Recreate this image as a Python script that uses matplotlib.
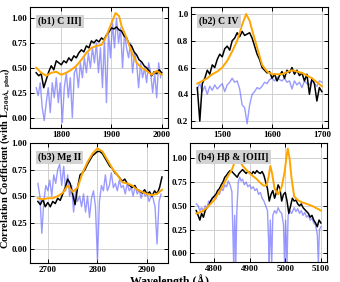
import numpy as np
import matplotlib
matplotlib.use("Agg")
import matplotlib.pyplot as plt

plt.rcParams['font.family'] = ['Liberation Serif', 'DejaVu Serif']
plt.rcParams['font.weight'] = 'bold'
plt.rcParams['mathtext.fontset'] = 'custom'
plt.rcParams['mathtext.rm'] = 'Liberation Serif:bold'
plt.rcParams['mathtext.bf'] = 'Liberation Serif:bold'

# ---- (b1) C III] ----
b1_wl = np.arange(1750, 2001, 5)
b1_obs = [.45, .42, .44, .30, .38, .46, .52, .48, .57, .55, .53, .57, .55, .60, .57, .62, .60,
          .65, .68, .66, .72, .70, .77, .75, .78, .76, .80, .78, .83, .86, .90, .89, .91, .88,
          .87, .82, .80, .74, .72, .66, .63, .58, .56, .52, .50, .47, .42, .46, .44, .48, .45]
b1_mod_wl = [1750, 1760, 1770, 1780, 1790, 1800, 1810, 1820, 1830, 1840, 1850, 1860, 1870, 1880,
             1890, 1900, 1908, 1915, 1920, 1930, 1940, 1950, 1960, 1970, 1980, 1990, 2000]
b1_mod = [.50, .45, .42, .45, .46, .43, .45, .48, .52, .58, .65, .70, .72, .73,
          .82, .95, 1.05, 1.02, .92, .80, .66, .55, .50, .47, .43, .47, .43]
b1_ew_wl = np.arange(1750, 2000, 4)
b1_ew = [.30, .22, .35, .10, -.03, .15, .30, .05, .35, .20, .40, .15, .35, -.05, .30, .45,
         .20, .40, .00, .45, .50, .30, .55, .40, .60, .45, .65, .50, .70, .55, .75, .45,
         .70, .30, .80, .15, .85, .60, .95, .70, 1.00, .75, .90, .50, .85, .70, .60, .75,
         .45, .65, .55, .30, .55, .40, .50, .35, .55, .45, .25, .45, .20, .55, .40]

# ---- (b2) C IV ----
b2_wl = np.arange(1450, 1701, 5)
b2_obs = [.45, .20, .48, .52, .58, .55, .62, .60, .66, .70, .68, .74, .76, .73, .80, .82, .86,
          .83, .87, .84, .85, .86, .82, .76, .70, .66, .60, .58, .56, .57, .52, .55, .50, .54,
          .57, .52, .58, .56, .60, .55, .58, .54, .56, .50, .55, .40, .52, .48, .35, .45, .42]
b2_mod_wl = [1450, 1460, 1470, 1480, 1490, 1500, 1510, 1520, 1530, 1540, 1548, 1555, 1560,
             1570, 1580, 1590, 1600, 1620, 1640, 1660, 1680, 1700]
b2_mod = [.48, .50, .52, .55, .57, .60, .65, .72, .80, .92, 1.00, .95, .88,
          .75, .62, .57, .55, .55, .58, .56, .52, .46]
b2_ew = [.44, .48, .42, .46, .40, .46, .43, .47, .44, .46, .48, .42, .47, .49, .52, .49, .50,
         .44, .32, .30, .18, .32, .40, .42, .45, .44, .46, .49, .48, .51, .52, .50, .53, .51,
         .50, .52, .49, .50, .44, .50, .47, .49, .45, .50, .48, .47, .50, .48, .46, .50, .49]

# ---- (b3) Mg II ----
b3_wl = np.arange(2680, 2931, 5)
b3_obs = [.45, .42, .47, .40, .44, .40, .45, .43, .48, .46, .52, .58, .66, .62, .52, .42, .58,
          .70, .72, .75, .80, .84, .88, .90, .92, .92, .90, .86, .82, .78, .76, .72, .70, .67,
          .64, .66, .62, .60, .58, .60, .56, .55, .53, .56, .52, .54, .50, .55, .52, .58, .68]
b3_mod_wl = np.arange(2680, 2931, 10)
b3_mod = [.48, .47, .48, .48, .50, .53, .60, .54, .58, .72, .82, .90, .95, .92, .84, .76,
          .70, .63, .62, .60, .56, .54, .52, .51, .52, .56]
b3_ew_wl = np.arange(2680, 2930, 4)
b3_ew = [.62, .50, .15, .45, .60, .55, .65, .50, .70, .62, .75, .80, .60, .78, .55, .70,
         .50, .60, .35, .55, .45, .50, .40, .52, .35, .50, .30, .48, .55, .40, -.10, .45,
         .60, .55, .70, .55, .60, .72, .58, .62, .55, .65, .58, .60, .52, .62, .55, .58,
         .50, .60, .52, .56, .48, .55, .50, .52, .45, .50, .48, .40, .05, .45, .52]

# ---- (b4) Hbeta & [OIII] ----
b4_wl = np.arange(4750, 5101, 5)
b4_obs = [.45, .40, .35, .42, .38, .45, .48, .50, .55, .58, .60, .62, .66, .68, .72, .75, .80,
          .82, .85, .87, .86, .84, .82, .80, .84, .86, .88, .86, .84, .86, .85, .83, .86, .84,
          .87, .85, .84, .86, .82, .75, .68, .55, .62, .66, .58, .64, .72, .68, .55, .62, .64,
          .55, .42, .50, .58, .55, .56, .52, .50, .52, .48, .46, .44, .42, .38, .40, .35, .32,
          .28, .35, .32]
b4_mod_wl = [4750, 4760, 4770, 4780, 4790, 4800, 4810, 4820, 4830, 4840, 4850, 4858, 4865,
             4872, 4880, 4890, 4900, 4910, 4920, 4930, 4940, 4948, 4953, 4958, 4963, 4970,
             4980, 4990, 4998, 5003, 5007, 5012, 5018, 5025, 5035, 5045, 5060, 5075, 5090, 5100]
b4_mod = [.42, .43, .45, .48, .52, .56, .62, .68, .75, .82, .88, .96, 1.05,
          .98, .92, .88, .84, .81, .78, .74, .71, .72, .80, .92, .84, .68,
          .62, .70, .85, 1.00, 1.10, 1.00, .78, .60, .56, .54, .52, .50, .47, .45]
b4_ew_wl = [4750, 4755, 4760, 4765, 4770, 4775, 4780, 4785, 4790, 4795, 4800, 4805, 4810,
            4815, 4820, 4825, 4830, 4835, 4840, 4845, 4850, 4853, 4855, 4858, 4861, 4864,
            4868, 4872, 4876, 4880, 4885, 4890, 4895, 4900, 4905, 4910, 4915, 4920, 4925,
            4930, 4935, 4940, 4945, 4950, 4953, 4955, 4958, 4962, 4965, 4970, 4975, 4980,
            4985, 4990, 4995, 4998, 5001, 5005, 5008, 5012, 5018, 5025, 5030, 5035, 5040,
            5045, 5050, 5055, 5060, 5065, 5070, 5075, 5080, 5085, 5090, 5093, 5096, 5100]
b4_ew = [.52, .50, .45, .48, .44, .50, .48, .55, .52, .58, .60, .57, .64,
         .62, .68, .66, .72, .70, .76, .72, .65, .20, -.10, .40, -.10, .45,
         .75, .80, .76, .78, .72, .75, .70, .72, .68, .70, .66, .68, .62,
         .64, .58, .55, .50, .45, .15, -.10, .35, -.10, .40, .45, .42, .48,
         .44, .42, .30, -.10, .35, -.10, .40, .45, .42, .48, .44, .47, .42,
         .45, .40, .43, .38, .40, .35, .37, .32, .30, .20, -.10, .25, .28]

panels = [
    ("(b1) C III]", b1_wl, b1_obs, b1_mod_wl, b1_mod, b1_ew_wl, b1_ew,
     [0.088, 0.546, 0.406, 0.429], (1737.5, 2012.5), (-0.105, 1.11),
     [1800, 1900, 2000], [0.0, 0.25, 0.5, 0.75, 1.0], "%.2f"),
    ("(b2) C IV", b2_wl, b2_obs, b2_mod_wl, b2_mod, b2_wl, b2_ew,
     [0.562, 0.546, 0.403, 0.429], (1437.5, 1712.5), (0.148, 1.052),
     [1500, 1600, 1700], [0.2, 0.4, 0.6, 0.8, 1.0], "%.1f"),
    ("(b3) Mg II", b3_wl, b3_obs, b3_mod_wl, b3_mod, b3_ew_wl, b3_ew,
     [0.088, 0.067, 0.406, 0.426], (2664, 2942), (-0.13, 1.0),
     [2700, 2800, 2900], [0.0, 0.25, 0.5, 0.75, 1.0], "%.2f"),
    ("(b4) H\u03b2 & [OIII]", b4_wl, b4_obs, b4_mod_wl, b4_mod, b4_ew_wl, b4_ew,
     [0.559, 0.071, 0.403, 0.422], (4732.5, 5117.5), (-0.09, 1.16),
     [4800, 4900, 5000, 5100], [0.0, 0.25, 0.5, 0.75, 1.0], "%.2f"),
]

fig = plt.figure(figsize=(3.4, 2.82), dpi=100)

for (name, wl, obs, mwl, mod, ewl, ew, rect, xl, yl, xt, yt, fmt) in panels:
    ax = fig.add_axes(rect)
    ax.plot(ewl, ew, color='#7070ff', alpha=0.7, lw=1.0, zorder=2)
    ax.plot(wl, obs, color='k', lw=1.1, zorder=3)
    ax.plot(mwl, mod, color='orange', lw=1.4, zorder=4)
    ax.set_xlim(xl)
    ax.set_ylim(yl)
    ax.set_xticks(xt)
    ax.set_yticks(yt)
    ax.set_yticklabels([fmt % v for v in yt])
    ax.grid(color='#d0d0d0', lw=0.7, zorder=0)
    ax.tick_params(direction='in', top=True, right=True, labelsize=6.5, length=3, width=0.7, pad=2)
    for s in ax.spines.values():
        s.set_linewidth(0.8)
    ax.text(0.06, 0.92, name, transform=ax.transAxes, fontsize=7, fontweight='bold', va='top',
            ha='left', zorder=6,
            bbox=dict(facecolor='#d3d3d3', edgecolor='none', pad=1.5))

fig.text(0.016, 0.44, r"Correlation Coefficient (with L$_{\mathbf{2500\AA,\,phot}}$)",
         rotation=90, ha='center', va='center', fontsize=7.5, fontweight='bold')
fig.text(0.5, 0.028, "Wavelength (\u00c5)", ha='center', va='top', fontsize=8.5,
         fontweight='bold')

fig.savefig("out.png", dpi=100)
